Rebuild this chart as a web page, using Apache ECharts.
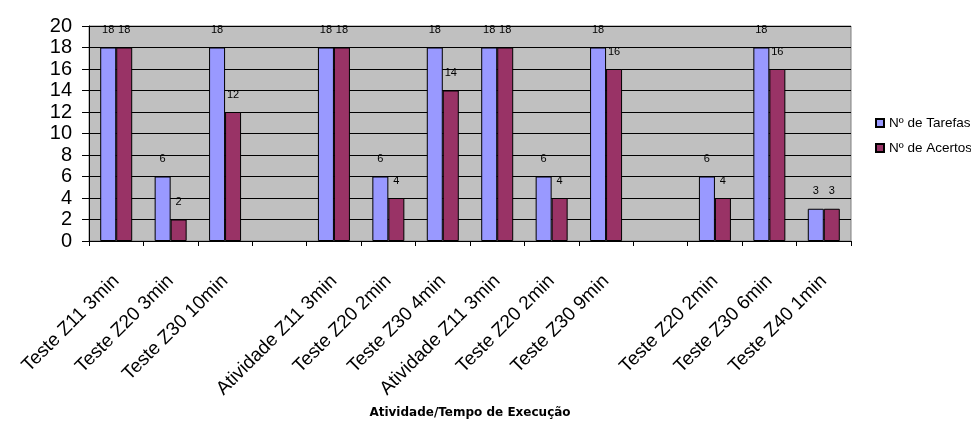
<!DOCTYPE html>
<html>
<head>
<meta charset="utf-8">
<script src="https://cdn.jsdelivr.net/npm/echarts@6/dist/echarts.min.js"></script>
<style>
html,body{margin:0;padding:0;background:#fff;}
#chart{width:971px;height:424px;}
</style>
</head>
<body>
<div id="chart"></div>
<script>
var categories = ['Teste Z11 3min','Teste Z20 3min','Teste Z30 10min','','Atividade Z11 3min','Teste Z20 2min','Teste Z30 4min','Atividade Z11 3min','Teste Z20 2min','Teste Z30 9min','','Teste Z20 2min','Teste Z30 6min','Teste Z40 1min'];
var tarefas = [18,6,18,null,18,6,18,18,6,18,null,6,18,3];
var acertos = [18,2,12,null,18,4,14,18,4,16,null,4,16,3];
var seriesNames = ['Nº de Tarefas','Nº de Acertos'];
var yTicks = {min:0, max:20, interval:2};
var xTitle = 'Atividade/Tempo de Execução';

var font = "'Liberation Sans', Arial, sans-serif";
var labelStyle = {show:true, position:'top', distance:12, color:'#000', fontSize:11, fontFamily:font};
var chart = echarts.init(document.getElementById('chart'));
chart.setOption({
  animation:false,
  backgroundColor:'#fff',
  grid:{left:89, right:120, top:26, bottom:183, show:true, backgroundColor:'#C0C0C0', borderColor:'#808080', borderWidth:1},
  legend:{
    orient:'vertical', left:870, top:111, itemWidth:8, itemHeight:8, itemGap:11,
    textStyle:{fontFamily:font, fontSize:13.5, color:'#000'},
    data:seriesNames.map(function(n){return {name:n, icon:'rect'};})
  },
  xAxis:{
    type:'category', data:categories, boundaryGap:true,
    name:xTitle, nameLocation:'middle', nameGap:166,
    nameTextStyle:{fontFamily:"'DejaVu Sans', sans-serif", fontWeight:'bold', fontSize:12, color:'#000'},
    axisLine:{lineStyle:{color:'#000', width:1}},
    axisTick:{show:true, alignWithLabel:false, length:5, lineStyle:{color:'#000'}},
    axisLabel:{rotate:45, interval:0, margin:37, fontFamily:font, fontSize:19, color:'#000'},
    splitLine:{show:false}
  },
  yAxis:{
    type:'value', min:yTicks.min, max:yTicks.max, interval:yTicks.interval,
    axisLine:{show:true, lineStyle:{color:'#000', width:1}},
    axisTick:{show:true, length:7, lineStyle:{color:'#000'}},
    axisLabel:{margin:17, fontFamily:font, fontSize:20, color:'#000'},
    splitLine:{show:true, lineStyle:{color:'#000', width:1}}
  },
  series:[
    {name:seriesNames[0], type:'bar', data:tarefas, barWidth:16, barGap:'0%',
     itemStyle:{color:'#9999FF', borderColor:'#000', borderWidth:1}, label:labelStyle},
    {name:seriesNames[1], type:'bar', data:acertos, barWidth:16, barGap:'0%',
     itemStyle:{color:'#993366', borderColor:'#000', borderWidth:1}, label:labelStyle}
  ]
});
</script>
</body>
</html>
